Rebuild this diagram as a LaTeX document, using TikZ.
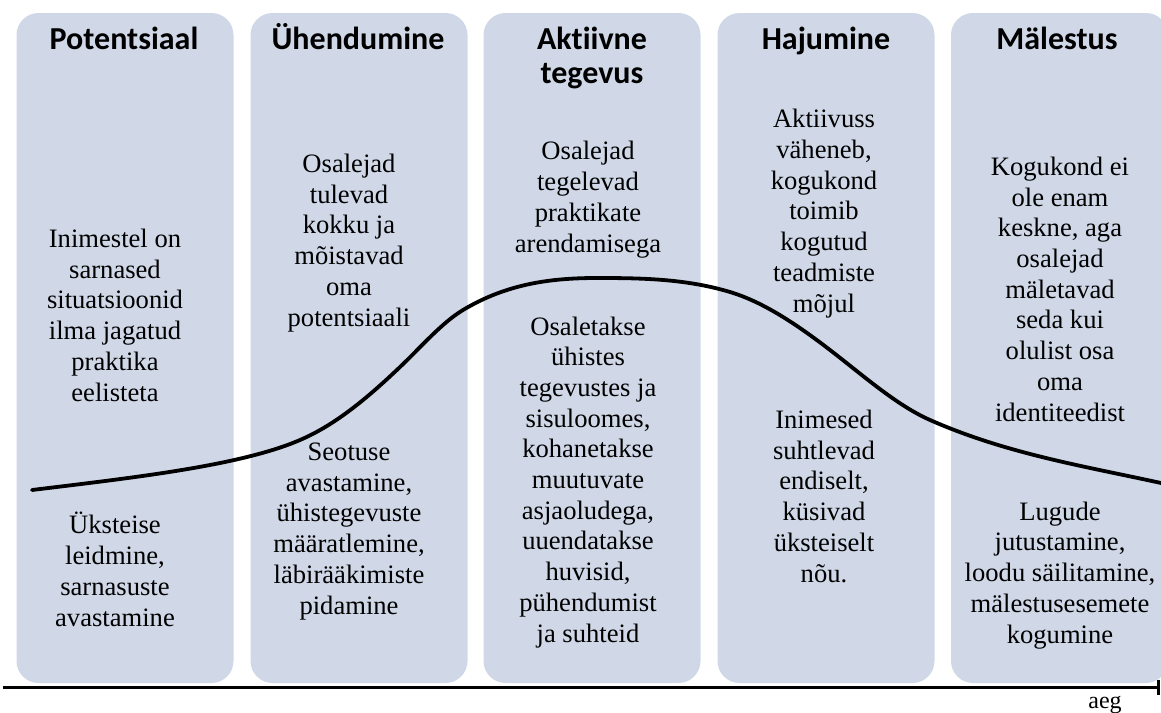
\documentclass[tikz,border=0pt]{standalone}
\usepackage{fontspec}
\setmainfont{Liberation Serif}
\newfontfamily\headfont[Ligatures=NoCommon]{Carlito}
\usetikzlibrary{arrows.meta}
\definecolor{boxfill}{RGB}{208,216,232}
\begin{document}
\begin{tikzpicture}[x=1pt,y=-1pt,
  phase/.style={fill=boxfill, draw=none, rounded corners=22pt, minimum width=217pt, minimum height=670pt, inner sep=0},
  head/.style={font=\headfont\bfseries\fontsize{32}{34}\selectfont, align=center, anchor=base, inner sep=0},
  body/.style={font=\fontsize{26.6}{30.7}\selectfont, align=center, anchor=base, inner sep=0},
  curve/.style={line width=3.8pt, line cap=round},
  axis/.style={line width=3pt, -{Bar[width=15pt, line width=3pt]}}
]
\useasboundingbox (0,0) rectangle (1161,712);

% phase boxes
\node[phase] (b1) at (125,348) {};
\node[phase] (b2) at (359,348) {};
\node[phase] (b3) at (592,348) {};
\node[phase] (b4) at (826,348) {};
\node[phase] (b5) at (1059.5,348) {};

% headings (anchor base = baseline of the last line)
\node[head] (h1) at (124,49) {Potentsiaal};
\node[head] (h2) at (358,49) {Ühendumine};
\node[head] (h3) at (592,83) {Aktiivne\\tegevus};
\node[head] (h4) at (826,49) {Hajumine};
\node[head] (h5) at (1057,49) {Mälestus};

% column texts (anchor base = baseline of the last line)
\node[body] (t1a) at (115,401) {Inimestel on\\sarnased\\situatsioonid\\ilma jagatud\\praktika\\eelisteta};
\node[body] (t1b) at (115,626) {Üksteise\\leidmine,\\sarnasuste\\avastamine};
\node[body] (t2a) at (349,326) {Osalejad\\tulevad\\kokku ja\\mõistavad\\oma\\potentsiaali};
\node[body] (t2b) at (349,614) {Seotuse\\avastamine,\\ühistegevuste\\määratlemine,\\läbirääkimiste\\pidamine};
\node[body] (t3a) at (588,252) {Osalejad\\tegelevad\\praktikate\\arendamisega};
\node[body] (t3b) at (588,642) {Osaletakse\\ühistes\\tegevustes ja\\sisuloomes,\\kohanetakse\\muutuvate\\asjaoludega,\\uuendatakse\\huvisid,\\pühendumist\\ja suhteid};
\node[body] (t4a) at (824,312) {Aktiivuss\\väheneb,\\kogukond\\toimib\\kogutud\\teadmiste\\mõjul};
\node[body] (t4b) at (824,582) {Inimesed\\suhtlevad\\endiselt,\\küsivad\\üksteiselt\\nõu.};
\node[body] (t5a) at (1060,421) {Kogukond ei\\ole enam\\keskne, aga\\osalejad\\mäletavad\\seda kui\\olulist osa\\oma\\identiteedist};
\node[body] (t5b) at (1060,643) {Lugude\\jutustamine,\\loodu säilitamine,\\mälestusesemete\\kogumine};

% life-cycle curve
\draw[curve] (32,490)
  .. controls (130,478) and (240,466) .. (300,440)
  .. controls (335,425) and (366.7,398.7) .. (400,367)
  .. controls (421,347) and (442,322.6) .. (463,310)
  .. controls (507.7,283.2) and (552.3,278) .. (597,278)
  .. controls (641.3,278) and (685.7,278.7) .. (730,292)
  .. controls (763.3,302) and (796.7,324.4) .. (830,350)
  .. controls (863.3,375.6) and (896.7,405.3) .. (930,420)
  .. controls (1007,453.9) and (1084,466.1) .. (1161,483);

% time axis
\coordinate (axL) at (3,687);
\coordinate (axR) at (1160,687);
\draw[axis] (axL) -- (axR);
\node[font=\fontsize{24}{26}\selectfont, anchor=base, inner sep=0] (aeg) at (1105,708) {aeg};
\end{tikzpicture}
\end{document}
